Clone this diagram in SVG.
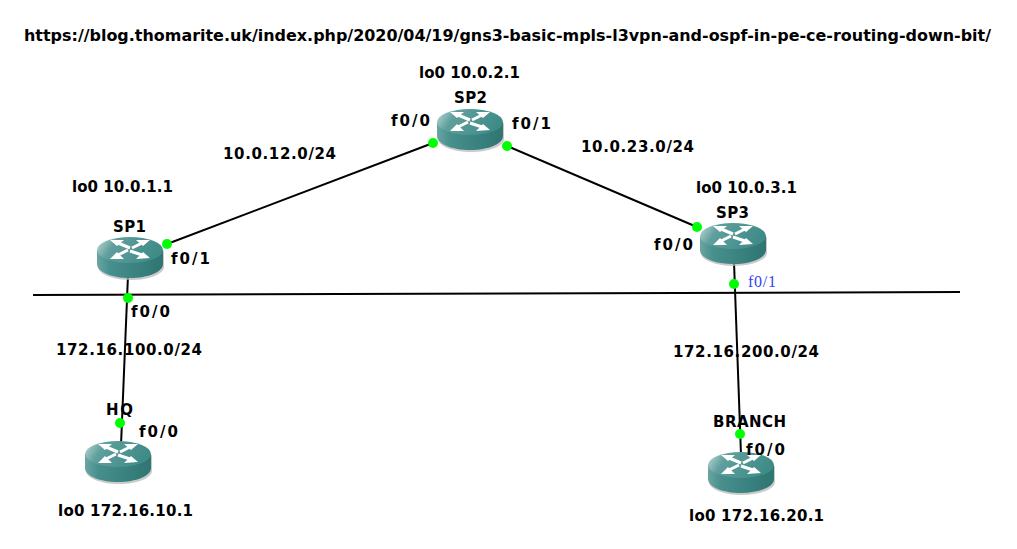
<svg xmlns="http://www.w3.org/2000/svg" width="1017" height="549" viewBox="0 0 1017 549">
<style>
text{font-family:"DejaVu Sans","Liberation Sans",sans-serif;font-weight:700;font-size:15px;fill:#000}
.c{stroke:#000;stroke-width:2;fill:none}
.d{fill:#0f0}
.a{stroke:#fff;stroke-width:3;fill:none}
.h{fill:#fff}
text.blue{font-family:"Liberation Serif",serif;font-weight:400;font-size:16px;fill:#3344ee}
</style>
<defs>
<linearGradient id="top" x1="0" y1="0" x2="1" y2="0.25"><stop offset="0" stop-color="#c4dbda"/><stop offset=".3" stop-color="#5f9f9d"/><stop offset="1" stop-color="#3f8b88"/></linearGradient>
<linearGradient id="side" x1="0" y1="0" x2="1" y2="0"><stop offset="0" stop-color="#6aa5a3"/><stop offset=".2" stop-color="#468f8c"/><stop offset=".7" stop-color="#377f7c"/><stop offset="1" stop-color="#2f7572"/></linearGradient>
<g id="router">
<path d="M1 14V30C1 37 16 43 34 43S67 37 67 30V14Z" fill="#b5b5b5" opacity=".7"/>
<path d="M0 13V27C0 35 15 41 33 41S66 35 66 27V13Z" fill="url(#side)"/>
<ellipse cx="33" cy="13" rx="33" ry="13" fill="url(#top)"/>
<path class="a" d="M21 6L33 11M31 13L21 18M35 11L45 6M33 14L45 18"/>
<path class="h" d="M13 3L27 3L20 9ZM53 3L39 3L46 9ZM13 22L27 22L20 15ZM53 21L39 22L46 15Z"/>
</g>
</defs>
<g id="connectors">
<line class="c" x1="33" y1="295" x2="960" y2="292"/>
<line class="c" x1="167" y1="244" x2="433" y2="143"/>
<line class="c" x1="507" y1="146" x2="697" y2="227"/>
<line class="c" x1="128" y1="275" x2="121" y2="445"/>
<line class="c" x1="734" y1="262" x2="741" y2="455"/>
<circle class="d" cx="167" cy="244" r="5"/>
<circle class="d" cx="433" cy="143" r="5"/>
<circle class="d" cx="507" cy="146" r="5"/>
<circle class="d" cx="697" cy="227" r="5"/>
<circle class="d" cx="128" cy="298" r="5"/>
<circle class="d" cx="734" cy="284" r="5"/>
<circle class="d" cx="120" cy="423" r="5"/>
<circle class="d" cx="740" cy="434" r="5"/>
</g>
<text id="url" x="24" y="41" textLength="967" lengthAdjust="spacingAndGlyphs">https://blog.thomarite.uk/index.php/2020/04/19/gns3-basic-mpls-l3vpn-and-ospf-in-pe-ce-routing-down-bit/</text>
<g id="SP2"><use href="#router" x="437" y="109"/><text x="454" y="103" textLength="33">SP2</text></g>
<g id="SP1"><use href="#router" x="97" y="237"/><text x="113" y="232" textLength="33">SP1</text></g>
<g id="SP3"><use href="#router" x="700" y="223"/><text x="716" y="218" textLength="33">SP3</text></g>
<g id="HQ"><use href="#router" x="85" y="441"/><text x="106" y="415" textLength="27">HQ</text></g>
<g id="BRANCH"><use href="#router" x="708" y="452"/><text x="713" y="427" textLength="73">BRANCH</text></g>
<g id="labels">
<text x="419" y="78" textLength="101">lo0 10.0.2.1</text>
<text x="72" y="192" textLength="101">lo0 10.0.1.1</text>
<text x="696" y="193" textLength="101">lo0 10.0.3.1</text>
<text x="58" y="516" textLength="135">lo0 172.16.10.1</text>
<text x="689" y="521" textLength="135">lo0 172.16.20.1</text>
<text x="223" y="159" textLength="113">10.0.12.0/24</text>
<text x="581" y="152" textLength="113">10.0.23.0/24</text>
<text x="56" y="355" textLength="146">172.16.100.0/24</text>
<text x="673" y="357" textLength="146">172.16.200.0/24</text>
<text x="391" y="126" textLength="39">f0/0</text>
<text x="512" y="129" textLength="39">f0/1</text>
<text x="171" y="264" textLength="39">f0/1</text>
<text x="654" y="250" textLength="39">f0/0</text>
<text x="131" y="317" textLength="39">f0/0</text>
<text x="139" y="437" textLength="39">f0/0</text>
<text x="746" y="455" textLength="39">f0/0</text>
<text class="blue" x="748" y="287" textLength="28">f0/1</text>
</g>
</svg>
